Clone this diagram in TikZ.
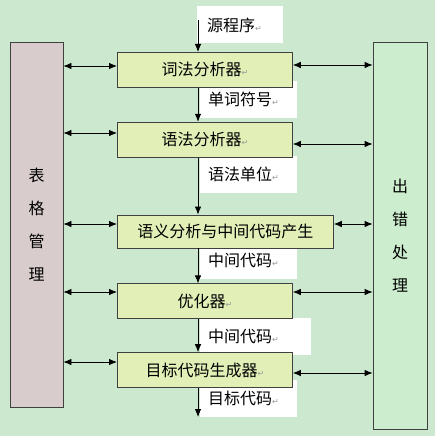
\documentclass[tikz,border=0pt]{standalone}
\usepackage{fontspec}
\setmainfont{Noto Sans CJK SC}
\newfontfamily\pmfont{DejaVu Sans}
\usetikzlibrary{arrows.meta,positioning}

\definecolor{bggreen}{RGB}{204,232,207}
\definecolor{tabfill}{RGB}{217,204,204}
\definecolor{errfill}{RGB}{204,238,206}
\definecolor{stagefill}{RGB}{226,240,184}
\newcommand{\pmark}{{\pmfont\fontsize{8}{8}\selectfont\textcolor{black!40}{↵}}}

\begin{document}
\begin{tikzpicture}[
    x=1pt, y=-1pt,
    stage/.style={rectangle, draw=black!75, line width=0.8pt, fill=stagefill, minimum width=175pt, minimum height=35pt, inner sep=0pt, font=\fontsize{16}{19}\selectfont},
    side/.style={rectangle, draw=black!75, line width=0.8pt, minimum width=53pt, align=center, inner sep=0pt, font=\fontsize{16}{33}\selectfont},
    tag/.style={rectangle, fill=white, anchor=west, text width=81pt, align=left, minimum height=37pt, inner xsep=8pt, inner ysep=0pt, font=\fontsize{16}{19}\selectfont},
    line/.style={draw, line width=0.8pt, -{Latex[length=8pt,width=6.5pt]}},
    biline/.style={draw, line width=0.8pt, {Latex[length=8pt,width=6.5pt]}-{Latex[length=8pt,width=6.5pt]}}
]
% Labels stay behind the stages
\pgfdeclarelayer{bg}
\pgfsetlayers{bg,main}

% ----------------------------
% Background and labels
% ----------------------------
\begin{pgfonlayer}{bg}
\path[fill=bggreen, use as bounding box] (0,0) rectangle (435,436);

\node[tag, text width=66pt, inner xsep=10pt] (srctag) at (197,25) {源程序\pmark};
\node[tag] (wordtag) at (200,99.5) {单词符号\pmark};
\node[tag] (unittag) at (200,174.5) {语法单位\pmark};
\node[tag] (midtag) at (200,260.5) {中间代码\pmark};
\node[tag, text width=95pt] (midtagb) at (200,336) {中间代码\pmark};
\node[tag] (objtag) at (200,398.5) {目标代码\pmark};
\end{pgfonlayer}

% ----------------------------
% Nodes
% ----------------------------
\node[side, fill=tabfill, minimum height=365pt] (tab) at (36.5,224.5) {表\\格\\管\\理};
\node[side, fill=errfill, minimum width=54pt, minimum height=387pt] (err) at (400,235.5) {出\\错\\处\\理};

\node[stage, anchor=north west] (lex) at (117,52) {词法分析器\pmark};
\node[stage, below=34pt of lex.south west, anchor=north west] (syn) {语法分析器\pmark};
\node[stage, below=57pt of syn.south west, anchor=north west, minimum width=216pt, minimum height=33pt] (sem) {语义分析与中间代码产生};
\node[stage, below=35pt of sem.south west, anchor=north west] (opt) {优化器\pmark};
\node[stage, below=33pt of opt.south west, anchor=north west] (gen) {目标代码生成器\pmark};

\coordinate (src) at (198,20);
\coordinate (out) at (198,417);

% ----------------------------
% Edges
% ----------------------------
\path[line] (src) -- (src |- lex.north);
\path[line] (src |- lex.south) -- (src |- syn.north);
\path[line] (src |- syn.south) -- (src |- sem.north);
\path[line] (src |- sem.south) -- (src |- opt.north);
\path[line] (src |- opt.south) -- (src |- gen.north);
\path[line] (src |- gen.south) -- (out);

% Table management
\path[biline] (tab.east |- 0,66) -- (lex.west |- 0,66);
\path[biline] (tab.east |- 0,133) -- (syn.west |- 0,133);
\path[biline] (tab.east |- 0,224) -- (sem.west |- 0,224);
\path[biline] (tab.east |- 0,292) -- (opt.west |- 0,292);
\path[biline] (tab.east |- 0,362) -- (gen.west |- 0,362);

% Error handling
\path[biline] (lex.east |- 0,65) -- (err.west |- 0,65);
\path[biline] (syn.east |- 0,144) -- (err.west |- 0,144);
\path[biline] (sem.east |- 0,224) -- (err.west |- 0,224);
\path[biline] (opt.east |- 0,292) -- (err.west |- 0,292);
\path[biline] (gen.east |- 0,373) -- (err.west |- 0,373);

\end{tikzpicture}
\end{document}
